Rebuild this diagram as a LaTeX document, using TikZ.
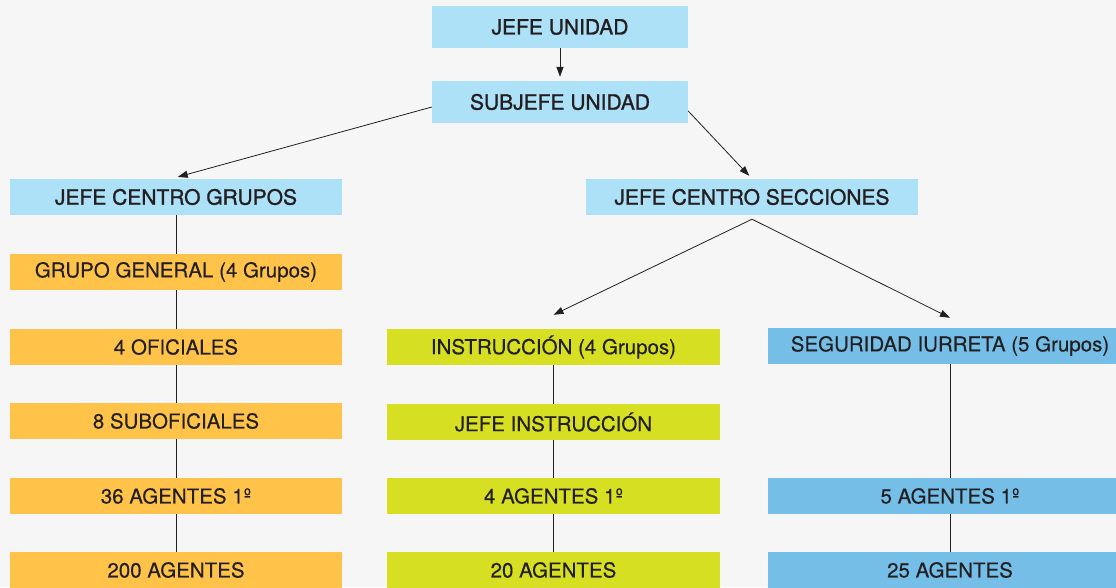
\documentclass[tikz,border=0pt]{standalone}
\usepackage{fontspec}
\setmainfont{TeX Gyre Heros}
\newfontfamily\bodyfont[FakeBold=0.25]{TeX Gyre Heros}
\newfontfamily\medfont[FakeBold=1.2]{TeX Gyre Heros}
\usetikzlibrary{arrows.meta}
\definecolor{bgcol}{HTML}{F6F6F6}
\definecolor{inkcol}{HTML}{231F20}
\definecolor{skycol}{HTML}{ADE1F8}
\definecolor{orangecol}{HTML}{FFC34A}
\definecolor{limecol}{HTML}{D6DF22}
\definecolor{bluecol}{HTML}{74BEE8}
\begin{document}
\begin{tikzpicture}[x=1pt, y=-1pt,
    >={Triangle[length=10pt,width=7pt]},
    box/.style={inner sep=0pt, text=inkcol,
      font=\bodyfont\fontsize{20.5}{24}\selectfont},
    skybox/.style={box, fill=skycol, minimum height=36pt,
      minimum width=332pt, font=\medfont\fontsize{21}{24}\selectfont},
    orangebox/.style={box, fill=orangecol, minimum width=332pt, minimum height=36pt},
    limebox/.style={box, fill=limecol, minimum width=333pt, minimum height=36pt},
    bluebox/.style={box, fill=bluecol, minimum width=364pt, minimum height=36pt},
    link/.style={draw=inkcol, line width=0.8pt}]
    \path[use as bounding box, fill=bgcol] (0,0) rectangle (1116,587);

    % top of the unit
    \node[skybox, minimum width=256pt, minimum height=42pt] (jefe) at (560,27) {JEFE UNIDAD};
    \node[skybox, minimum width=256pt, minimum height=42pt] (subjefe) at (560,102) {SUBJEFE UNIDAD};
    \node[skybox] (grupos) at (176,197) {JEFE CENTRO GRUPOS};
    \node[skybox] (secciones) at (752,197) {JEFE CENTRO SECCIONES};

    % groups column
    \node[orangebox] (general) at (176,272) {GRUPO GENERAL (4 Grupos)};
    \node[orangebox] (oficiales) at (176,347) {4 OFICIALES};
    \node[orangebox] (suboficiales) at (176,421) {8 SUBOFICIALES};
    \node[orangebox] (gagentesa) at (176,496) {36 AGENTES 1º};
    \node[orangebox] (gagentes) at (176,570) {200 AGENTES};

    % instruction column
    \node[limebox] (instr) at (553.5,347) {INSTRUCCIÓN (4 Grupos)};
    \node[limebox] (jefeinstr) at (553.5,422) {JEFE INSTRUCCIÓN};
    \node[limebox] (iagentesa) at (553.5,496) {4 AGENTES 1º};
    \node[limebox] (iagentes) at (553.5,570) {20 AGENTES};

    % security column
    \node[bluebox] (seguridad) at (950,346) {SEGURIDAD IURRETA (5 Grupos)};
    \node[bluebox] (sagentesa) at (950,496) {5 AGENTES 1º};
    \node[bluebox] (sagentes) at (950,570) {25 AGENTES};

    \draw[link, ->, shorten >=4pt] (jefe) -- (subjefe);
    \draw[link, ->, shorten >=7pt] ([yshift=-5pt]subjefe.west) -- ([xshift=-5pt]grupos.north);
    \draw[link, ->, shorten >=4pt] ([yshift=-9pt]subjefe.east) -- (secciones.north);
    \coordinate (fork) at ([yshift=-4pt]secciones.south);
    \draw[link, ->] (fork) -- ([yshift=14pt]instr.north);
    \draw[link, ->] (fork) -- ([yshift=10pt]seguridad.north);

    \draw[link] (grupos) -- (general) (general) -- (oficiales)
      (oficiales) -- (suboficiales) (suboficiales) -- (gagentesa)
      (gagentesa) -- (gagentes);
    \draw[link] (instr) -- (jefeinstr) (jefeinstr) -- (iagentesa)
      (iagentesa) -- (iagentes);
    \draw[link] (seguridad) -- (sagentesa) (sagentesa) -- (sagentes);
\end{tikzpicture}
\end{document}
